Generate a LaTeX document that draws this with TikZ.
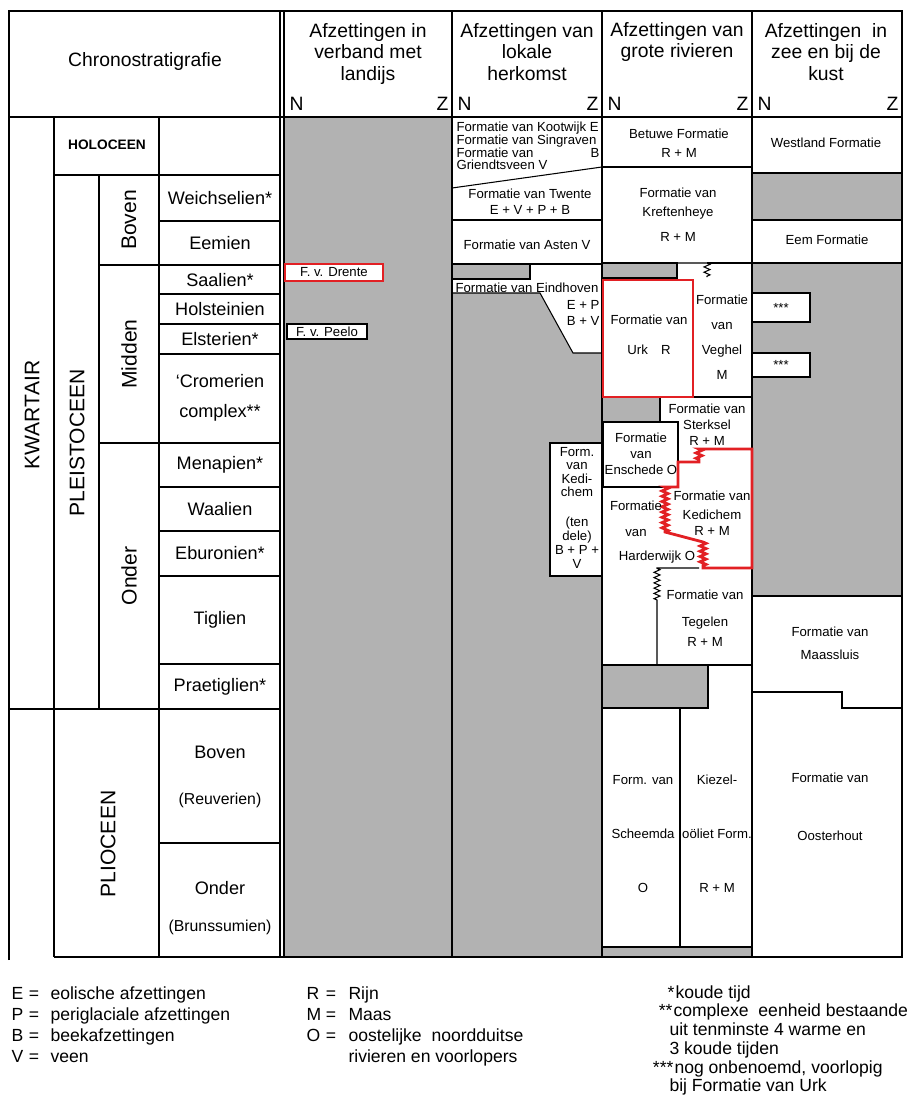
\documentclass[tikz,border=0pt]{standalone}
\usepackage{fontspec}
\setmainfont{Liberation Sans}
\usetikzlibrary{decorations.pathmorphing}
\definecolor{markred}{RGB}{226,32,36}
\tikzstyle{greyfill}=[fill=black!30,draw=black]
\tikzstyle{box}=[draw=black,fill=white,inner sep=0pt]
\tikzstyle{redline}=[draw=markred,line width=1.6pt]
\tikzstyle{cell}=[inner sep=0pt,align=center,
                  font=\fontsize{7.5}{9}\selectfont]
\tikzstyle{stage}=[inner sep=0pt,align=center,
                   font=\fontsize{10.3}{12}\selectfont]
\tikzstyle{head}=[inner sep=0pt,align=center,
                  font=\fontsize{11}{12.3}\selectfont]
\tikzstyle{series}=[inner sep=0pt,rotate=90,
                    font=\fontsize{12}{14}\selectfont]
\tikzstyle{legend}=[inner sep=0pt,anchor=base west,
                    font=\fontsize{10}{12}\selectfont]
\tikzstyle{zz}=[decoration={zigzag,segment length=3pt,amplitude=1.7pt}]

\begin{document}
\begin{tikzpicture}[x=0.02cm,y=-0.02cm,line width=0.6pt]
  \useasboundingbox (0,0) rectangle (914,1108);
  % grey parts
  \fill[black!30] (284,117) rectangle (452,957);
  \draw[greyfill] (452,264) rectangle (530,279);
  \draw[greyfill] (452,293) -- (540,293) -- (573,353) -- (602,353)
                  -- (602,957) -- (452,957) -- cycle;
  \draw[greyfill] (602,263) rectangle (677,278);
  \draw[greyfill] (602,397) rectangle (660,422);
  \draw[greyfill] (602,665) rectangle (708,708);
  \draw[greyfill] (602,947) rectangle (752,957);
  \draw[greyfill] (752,173) rectangle (902,220);
  \draw[greyfill] (752,263) rectangle (902,596);

  % frame and chronostratigraphy grid
  \draw (9,960) -- (9,11) -- (902,11) -- (902,957) -- (54,957);
  \draw (9,117) -- (902,117);
  \foreach \x in {280,284,452,602,752} \draw (\x,11) -- (\x,957);
  \foreach \x in {54,159} \draw (\x,117) -- (\x,957);
  \draw (99,175) -- (99,709);
  \draw (54,175) -- (280,175);
  \foreach \y in {265,443} \draw (99,\y) -- (280,\y);
  \foreach \y in {221,294,324,354,487,531,576,664,843}
    \draw (159,\y) -- (280,\y);
  \draw (9,709) -- (280,709);

  % header
  \node (chrono) [head] at (145,62) {Chronostratigrafie};
  \node (landijs) [head] at (368,54) {Afzettingen in\\verband met\\landijs};
  \node (lokaal) [head] at (527,52) {Afzettingen van\\lokale\\herkomst};
  \node (rivier) [head] at (677,42) {Afzettingen van\\grote rivieren};
  \node (kust) [head] at (826,52) {Afzettingen\ \ in\\zee en bij de\\kust};
  \foreach \l/\r in {284/452,452/602,602/752,752/902}{
    \node (n\l) [head,anchor=west] at (\l+5,104) {N};
    \node (z\r) [head,anchor=east] at (\r-3,104) {Z};
  }

  % chronostratigraphy
  \node (kwartair) [series] at (32,415) {KWARTAIR};
  \node (pleisto) [series] at (77,443) {PLEISTOCEEN};
  \node (plio) [series] at (108,844) {PLIOCEEN};
  \node (boven) [series] at (129,220) {Boven};
  \node (midden) [series] at (129,354) {Midden};
  \node (onder) [series] at (129,576) {Onder};
  \node (holo) [inner sep=0pt,font=\fontsize{7.8}{9}\selectfont\bfseries]
    at (107,145) {HOLOCEEN};
  \foreach \y/\lbl in {198/Weichselien*,243/Eemien,280/Saalien*,
      309/Holsteinien,339/Elsterien*,465/Menapien*,509/Waalien,
      553/Eburonien*,620/Tiglien,687/Praetiglien*,752/Boven,888/Onder}
    \node (st\y) [stage] at (220,\y) {\lbl};
  \node (cromer) [stage,font=\fontsize{10.3}{17}\selectfont]
    at (220,398) {`Cromerien\\complex**};
  \node (reuver) [stage,font=\fontsize{9}{11}\selectfont]
    at (220,800) {(Reuverien)};
  \node (brunss) [stage,font=\fontsize{9}{11}\selectfont]
    at (220,927) {(Brunssumien)};

  % landijs
  \node (drente) [box,redline,cell,minimum width=1.96cm,minimum height=0.34cm]
    at (334,272.5) {F. v. Drente};
  \node (peelo) [box,cell,minimum width=1.6cm,minimum height=0.3cm]
    at (327,331.5) {F. v. Peelo};

  % lokale herkomst
  \draw (452,188) -- (602,167);
  \draw (452,220) -- (602,220);
  \draw (452,264) -- (602,264);
  \draw[box] (550,443) rectangle (602,576);
  \node (kootwijk) [cell,anchor=west] at (456,128) {Formatie van Kootwijk E};
  \node (singraven) [cell,anchor=west] at (456,141) {Formatie van Singraven};
  \node (griendts) [cell,anchor=west] at (456,153) {Formatie van};
  \node (singb) [cell,anchor=east] at (600,153) {B};
  \node (griendts2) [cell,anchor=west] at (456,165) {Griendtsveen V};
  \node (twente) [cell] at (530,202) {Formatie van Twente\\E + V + P + B};
  \node (asten) [cell] at (527,245) {Formatie van Asten V};
  \node (eindh) [cell,anchor=west] at (455,288) {Formatie van Eindhoven};
  \node (eindh2) [cell,anchor=east] at (600,305) {E + P};
  \node (eindh3) [cell,anchor=east] at (600,321) {B + V};
  \node (kedlok) [cell,font=\fontsize{7.5}{7.5}\selectfont]
    at (577,472) {Form.\\van\\Kedi-\\chem};
  \node (kedlok2) [cell,font=\fontsize{7.5}{8}\selectfont]
    at (577,543) {(ten\\dele)\\B + P +\\V};

  % grote rivieren
  \draw (602,167) -- (752,167);
  \draw (602,263) -- (707,263) decorate[zz]{-- (707,277)};
  \draw (707,263) -- (752,263);
  \draw (660,397) -- (752,397);
  \draw (603,422) rectangle (678,487);
  \draw (602,665) -- (657,665) -- (657,600) decorate[zz]{-- (657,568)}
        -- (699,568);
  \draw (657,665) -- (752,665);
  \draw (680,708) -- (680,947);
  \draw[redline] (603,280) rectangle (693,397);
  \draw[redline] (752,449) -- (699,449) decorate[zz]{-- (699,462)}
        -- (678,462) -- (678,487) -- (665,487) decorate[zz]{-- (665,532)}
        -- (703,542) decorate[zz]{-- (703,568)} -- (752,568) -- cycle;
  \node (betuwe) [cell] at (679,143) {Betuwe Formatie\\[1.8pt]R + M};
  \node (kreften) [cell] at (678,215)
    {Formatie van\\[1.8pt]Kreftenheye\\[5.2pt]R + M};
  \node (urk) [cell] at (649,335) {Formatie van\\[8pt]Urk\quad R};
  \node (veghel) [cell] at (722,337) {Formatie\\[5.2pt]van\\[5.2pt]Veghel\\[5.2pt]M};
  \node (sterksel) [cell] at (707,425) {Formatie van\\Sterksel\\R + M};
  \node (enschede) [cell] at (641,454) {Formatie\\van\\Enschede O};
  \node (kedriv) [cell] at (712,513) {Formatie van\\[1.8pt]Kedichem\\R + M};
  \node (harder) [cell] at (636,519) {Formatie\\[5.5pt]van};
  \node (harder2) [cell] at (657,557) {Harderwijk O};
  \node (tegelen) [cell] at (705,618) {Formatie van\\[6.4pt]Tegelen\\[2.4pt]R + M};
  \node (scheemda) [cell] at (643,834) {Form. van\\[21.7pt]Scheemda\\[21.7pt]O};
  \node (kiezel) [cell] at (717,834) {Kiezel-\\[21.7pt]oöliet Form.\\[21.7pt]R + M};

  % zee en kust
  \draw (752,692) -- (842,692) -- (842,708) -- (902,708);
  \node (westland) [cell] at (826,143) {Westland Formatie};
  \node (eem) [cell] at (827,240) {Eem Formatie};
  \node (onb1) [box,cell,minimum width=1.16cm,minimum height=0.58cm]
    at (781,307.5) {***};
  \node (onb2) [box,cell,minimum width=1.16cm,minimum height=0.48cm]
    at (781,365) {***};
  \node (maassl) [cell] at (830,643) {Formatie van\\[4pt]Maassluis};
  \node (oosterh) [cell] at (830,807) {Formatie van\\[24pt]Oosterhout};

  % legend
  \foreach \y/\k/\lbl in {999/E/eolische afzettingen,
      1020/P/periglaciale afzettingen,1041/B/beekafzettingen,1062/V/veen}{
    \node (k\k) [legend] at (11,\y) {\k};
    \node (is\k) [legend,anchor=base] at (34,\y) {=};
    \node (t\k) [legend] at (50,\y) {\lbl};
  }
  \foreach \y/\k/\lbl in {999/R/Rijn,1020/M/Maas,1041/O/oostelijke\ \ noordduitse}{
    \node (k\k) [legend] at (306,\y) {\k};
    \node (is\k) [legend,anchor=base] at (331,\y) {=};
    \node (t\k) [legend] at (348,\y) {\lbl};
  }
  \node (tO2) [legend] at (348,1062) {rivieren en voorlopers};
  \node (ster1) [legend,anchor=base east] at (675,998) {*};
  \node (koud) [legend] at (675,998) {koude tijd};
  \node (ster2) [legend,anchor=base east] at (673,1016) {**};
  \node (compl) [legend] at (673,1016) {complexe\ \ eenheid bestaande};
  \node (compl2) [legend] at (669,1035) {uit tenminste 4 warme en};
  \node (compl3) [legend] at (669,1054) {3 koude tijden};
  \node (ster3) [legend,anchor=base east] at (674,1073) {***};
  \node (onben) [legend] at (674,1073) {nog onbenoemd, voorlopig};
  \node (onben2) [legend] at (669,1091) {bij Formatie van Urk};
\end{tikzpicture}
\end{document}
